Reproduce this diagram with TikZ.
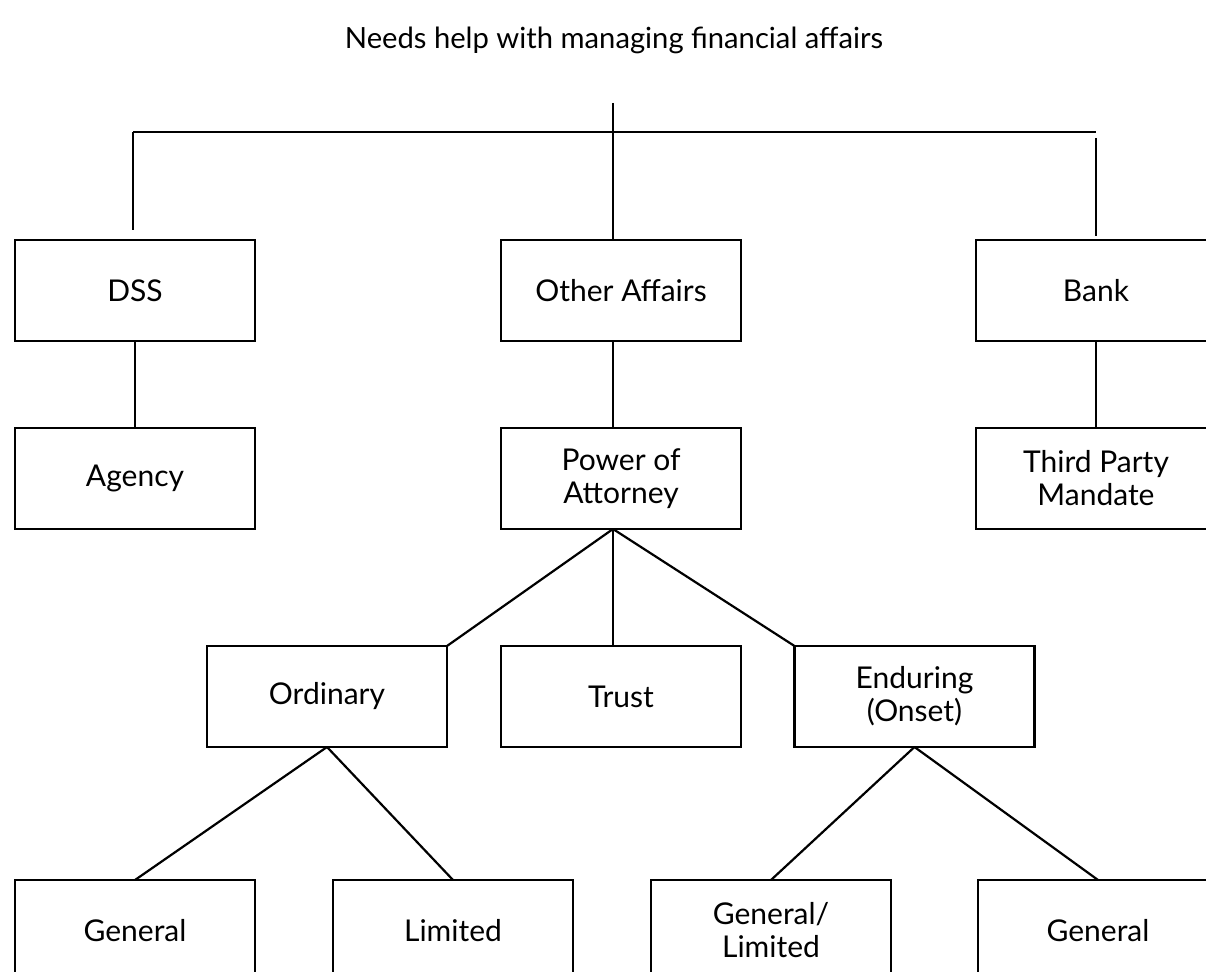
\documentclass[tikz,border=0pt]{standalone}
\usepackage{fontspec}
\setmainfont{Lato}
\usetikzlibrary{positioning, calc}

\tikzset{
	box/.style={rectangle, draw, line width=1.2pt, minimum width=120pt, minimum height=50.5pt, inner sep=0pt, outer sep=0pt, align=center, font=\fontsize{15}{16.5}\selectfont},
	link/.style={line width=1.1pt}
}

\begin{document}
\begin{tikzpicture}[x=0.5pt, y=-0.5pt]
			\path[use as bounding box, clip] (0,0) rectangle (1206,972);
			\node[font=\fontsize{14.6}{16}\selectfont] (title) at (614,40) {Needs help with managing financial affairs};
			\coordinate (spine) at (613,103);
			\coordinate (barW) at (133,132);
			\coordinate (barE) at (1096,132);
			\node[box] (dss) at (135,290.5) {DSS};
			\node[box] (other) at (621,290.5) {Other Affairs};
			\node[box] (bank) at (1096,290.5) {Bank};
			\node[box, below=94pt of dss.center, anchor=center] (agency) {Agency};
			\node[box, below=94pt of other.center, anchor=center] (poa) {Power of\\Attorney};
			\node[box, below=94pt of bank.center, anchor=center] (tpm) {Third Party\\Mandate};
			\node[box] (ordinary) at (327,696.5) {Ordinary};
			\node[box] (trust) at (621,696.5) {Trust};
			\node[box] (enduring) at (914.5,696.5) {Enduring\\(Onset)};
			\node[box] (gen1) at (135,930.5) {General};
			\node[box] (limited) at (453,930.5) {Limited};
			\node[box] (genlim) at (771,930.5) {General/\\Limited};
			\node[box] (gen2) at (1098,930.5) {General};
			\draw[link] (spine) -- (spine |- other.north);
			\draw[link] (barW) -- (barE);
			\draw[link, shorten >=5pt] (barW) -- (barW |- dss.north);
			\draw[link, shorten <=3pt, shorten >=2pt] (barE) -- (barE |- bank.north);
			\draw[link] (dss) -- (agency);
			\draw[link] (other.south -| spine) -- (poa.north -| spine);
			\draw[link] (bank) -- (tpm);
			\draw[link] (poa.south -| spine) -- (ordinary.north east);
			\draw[link] (poa.south -| spine) -- (trust.north -| spine);
			\draw[link] (poa.south -| spine) -- (enduring.north west);
			\draw[link] (ordinary.south) -- (gen1.north);
			\draw[link] (ordinary.south) -- (limited.north);
			\draw[link] (enduring.south) -- (genlim.north);
			\draw[link] (enduring.south) -- (gen2.north);
		\end{tikzpicture}
\end{document}
